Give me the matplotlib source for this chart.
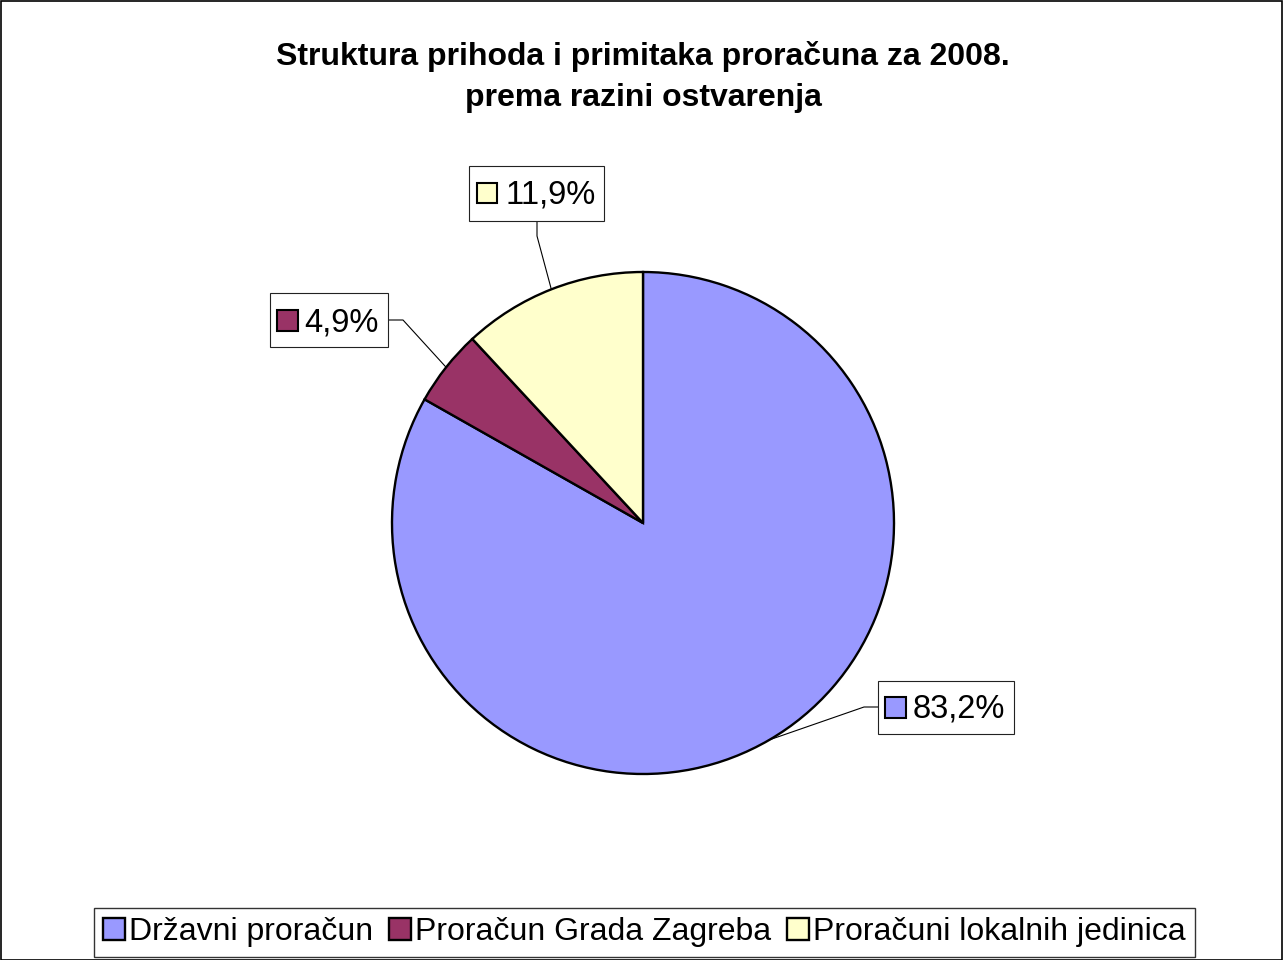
import matplotlib
matplotlib.use("Agg")
import matplotlib.pyplot as plt
from matplotlib.patches import Rectangle
import numpy as np

plt.rcParams['font.family'] = ['Liberation Sans', 'DejaVu Sans']

title_lines = ["Struktura prihoda i primitaka proračuna za 2008.", "prema razini ostvarenja"]
categories = ["Državni proračun", "Proračun Grada Zagreba", "Proračuni lokalnih jedinica"]
values = [83.2, 4.9, 11.9]
labels = ["83,2%", "4,9%", "11,9%"]
colors = ["#9999FF", "#993366", "#FFFFCC"]

W, H = 1283, 960
fig = plt.figure(figsize=(W / 100, H / 100), dpi=100)
ax = fig.add_axes([0, 0, 1, 1])

# figure border
fig.patches.append(Rectangle((0.5 / W, 0.5 / H), 1 - 1.5 / W, 1 - 1.5 / H, transform=fig.transFigure,
                             fill=False, edgecolor='black', linewidth=1.2))

cx, cy, R = 643, H - 523, 251
wedges, _ = ax.pie(values, colors=colors, startangle=90, counterclock=False,
                   center=(cx, cy), radius=R, frame=True,
                   wedgeprops=dict(edgecolor='black', linewidth=1.7))
ax.set_xlim(0, W)
ax.set_ylim(0, H)
ax.set_aspect('auto')
ax.axis('off')

# title
ax.text(cx, H - 65, title_lines[0], ha='center', va='baseline', fontsize=23, fontweight='bold')
ax.text(cx, H - 106, title_lines[1], ha='center', va='baseline', fontsize=23, fontweight='bold')

# data label boxes: (box left, box top, box right, box bottom) in pixel layout, and leader elbow
box_layout = {
    0: dict(box=(878, 681, 1014, 734), sq=(885, 697, 21), tx=(913, 718), elbow=[(864, 707), (878, 707)]),
    1: dict(box=(270, 293, 388, 347), sq=(277, 310, 21), tx=(304, 331), elbow=[(403, 320), (388, 320)]),
    2: dict(box=(469, 166, 604, 221), sq=(477, 183, 20), tx=(506, 204), elbow=[(537, 236), (537, 221)]),
}

for i, w in enumerate(wedges):
    lay = box_layout[i]
    l, t, r, b = lay['box']
    ax.add_patch(Rectangle((l, H - b), r - l, b - t, facecolor='white', edgecolor='#222222',
                           linewidth=0.8, zorder=5))
    sx, sy, ss = lay['sq']
    ax.add_patch(Rectangle((sx, H - sy - ss), ss, ss, facecolor=colors[i], edgecolor='black',
                           linewidth=1.5, zorder=6))
    ax.text(lay['tx'][0], H - lay['tx'][1], labels[i], ha='left', va='baseline', fontsize=23.5, zorder=7)
    mid = np.deg2rad((w.theta1 + w.theta2) / 2)
    px, py = cx + R * np.cos(mid), cy + R * np.sin(mid)
    xs = [px] + [p[0] for p in lay['elbow']]
    ys = [py] + [H - p[1] for p in lay['elbow']]
    ax.plot(xs, ys, color='black', linewidth=0.8, zorder=4)

leg = fig.legend(wedges, categories, loc='lower center', bbox_to_anchor=(644.5 / W, 3 / H),
                 ncol=3, fontsize=23, frameon=True, fancybox=False, shadow=False,
                 handlelength=0.68, handleheight=0.68, handletextpad=0.13, columnspacing=0.5,
                 borderpad=0.3, borderaxespad=0)
leg.get_frame().set_edgecolor('black')
leg.get_frame().set_linewidth(1.0)

fig.savefig("out.png", dpi=100)
